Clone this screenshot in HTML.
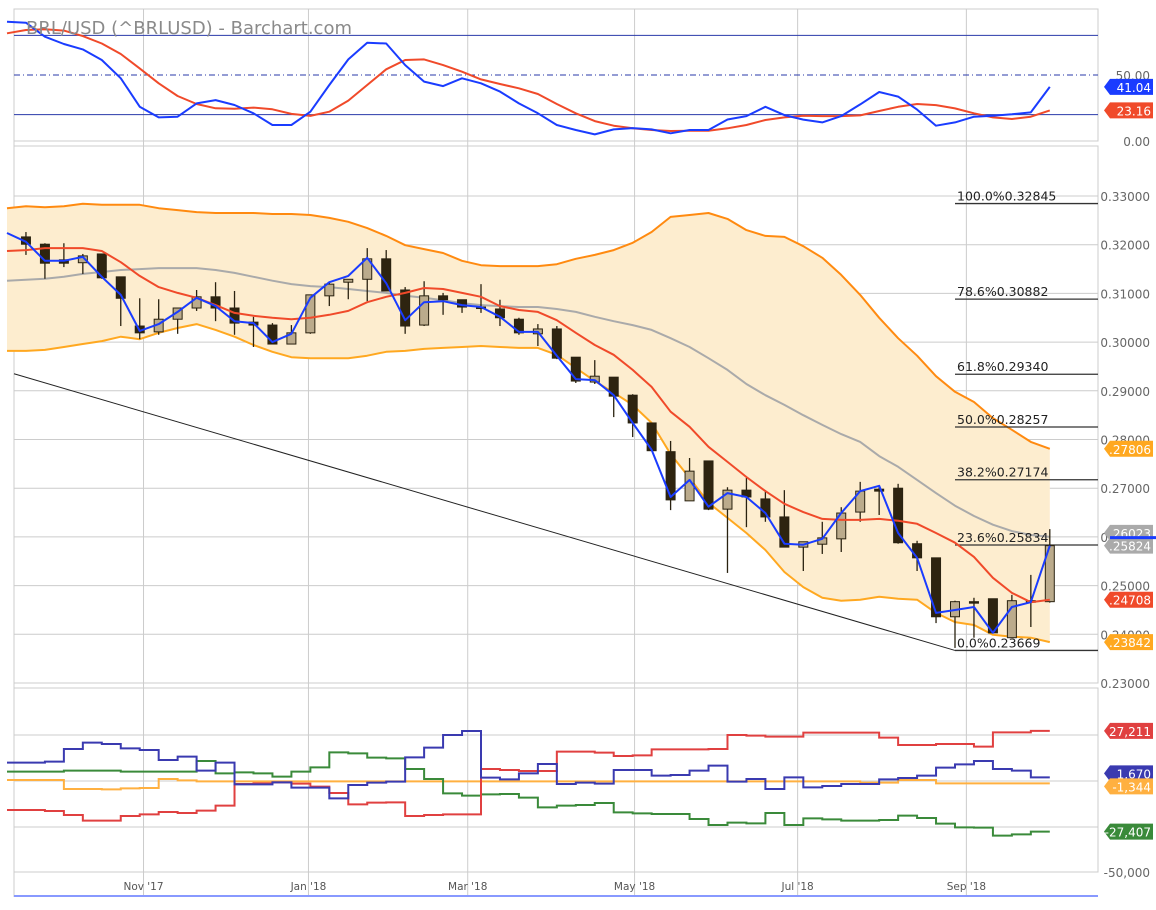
<!DOCTYPE html>
<html><head><meta charset="utf-8"><style>
html,body{margin:0;padding:0;background:#fff;}
svg{display:block;font-family:"DejaVu Sans","Liberation Sans",sans-serif;}
.ax{font-size:12px;fill:#666;}
.xl{font-size:10.5px;fill:#555;}
.bd{font-size:12px;fill:#fff;}
.fib{font-size:12.5px;fill:#222;}
</style></head><body>
<svg id="chart" width="1156" height="910" viewBox="0 0 1156 910" xmlns="http://www.w3.org/2000/svg">
<g id="grid"></g>
<g id="main"></g>
<g id="stoch"></g>
<g id="cot"></g>
<g id="axes"></g>
<text x="26" y="34" font-size="18" fill="#8a8a8a">BRL/USD (^BRLUSD) - Barchart.com</text>
</svg>
<script>
const opens=[.3216,.3201,.3169,.3163,.3181,.3134,.3033,.3021,.3047,.3070,.3093,.3070,.3041,.3035,.2996,.3019,.3095,.3123,.3129,.3171,.3107,.3035,.3095,.3087,.3072,.3068,.3047,.3017,.3027,.2969,.2918,.2928,.2891,.2834,.2775,.2674,.2756,.2657,.2696,.2678,.2641,.2579,.2585,.2596,.2651,.2698,.2700,.2586,.2557,.2436,.2467,.2473,.2393,.2467,.2467];
const highs=[.3226,.3203,.3203,.3181,.3181,.3134,.3090,.3088,.3070,.3107,.3123,.3105,.3052,.3039,.3035,.3097,.3123,.3129,.3193,.3189,.3113,.3125,.3101,.3087,.3119,.3087,.3050,.3037,.3033,.2969,.2963,.2928,.2893,.2834,.2797,.2762,.2756,.2702,.2721,.2696,.2696,.2590,.2631,.2661,.2713,.2706,.2709,.2592,.2557,.2469,.2475,.2473,.2481,.2522,.2616];
const lows=[.3179,.3130,.3154,.3140,.3130,.3033,.3006,.3015,.3017,.3064,.3043,.3015,.2990,.2996,.2996,.3017,.3074,.3088,.3084,.3105,.3017,.3033,.3056,.3060,.3060,.3033,.3015,.2992,.2965,.2916,.2914,.2846,.2805,.2777,.2655,.2674,.2655,.2526,.2620,.2631,.2579,.2530,.2565,.2569,.2631,.2645,.2586,.2530,.2423,.2372,.2393,.2403,.2393,.2415,.2465];
const closes=[.3201,.3162,.3162,.3177,.3132,.3090,.3019,.3047,.3070,.3093,.3070,.3039,.3035,.2996,.3019,.3097,.3119,.3129,.3171,.3105,.3033,.3095,.3087,.3072,.3070,.3050,.3019,.3027,.2967,.2920,.2930,.2889,.2834,.2777,.2676,.2735,.2657,.2696,.2682,.2641,.2579,.2590,.2598,.2649,.2694,.2694,.2588,.2557,.2436,.2467,.2465,.2403,.2469,.2469,.2582];
const upperBand=[.3275,.3279,.3277,.3279,.3284,.3282,.3282,.3282,.3275,.3271,.3267,.3265,.3265,.3265,.3263,.3263,.3261,.3255,.3247,.3234,.3218,.3199,.3191,.3183,.3167,.3158,.3156,.3156,.3156,.3160,.3171,.3179,.3189,.3204,.3226,.3257,.3261,.3265,.3253,.3230,.3218,.3216,.3197,.3173,.3138,.3097,.3050,.3008,.2972,.2930,.2898,.2877,.2844,.2820,.2795,.2781];
const lowerBand=[.2982,.2982,.2984,.2990,.2996,.3002,.3011,.3006,.3019,.3029,.3037,.3025,.3011,.2994,.2980,.2969,.2967,.2967,.2967,.2972,.2980,.2982,.2986,.2988,.2990,.2992,.2990,.2988,.2988,.2974,.2947,.2920,.2896,.2871,.2834,.2770,.2721,.2670,.2639,.2608,.2573,.2528,.2497,.2475,.2469,.2471,.2477,.2473,.2471,.2444,.2425,.2419,.2399,.2395,.2393,.2384];
const midBand=[.3126,.3128,.3130,.3134,.3140,.3144,.3148,.3150,.3152,.3152,.3152,.3148,.3142,.3134,.3126,.3119,.3115,.3113,.3109,.3105,.3101,.3095,.3091,.3086,.3080,.3076,.3074,.3072,.3072,.3068,.3062,.3052,.3043,.3035,.3025,.3008,.2990,.2967,.2943,.2914,.2891,.2871,.2850,.2830,.2811,.2795,.2766,.2744,.2717,.2690,.2664,.2643,.2625,.2612,.2604,.2600];
const redMA=[.3187,.3189,.3193,.3193,.3193,.3187,.3164,.3136,.3113,.3101,.3091,.3076,.3060,.3054,.3050,.3047,.3050,.3056,.3064,.3082,.3093,.3101,.3111,.3109,.3101,.3093,.3074,.3066,.3062,.3045,.3019,.2994,.2974,.2943,.2908,.2857,.2826,.2785,.2754,.2723,.2694,.2668,.2651,.2637,.2635,.2635,.2637,.2633,.2627,.2608,.2588,.2559,.2516,.2485,.2466,.2471];
const blueMA=[.3224,.3206,.3167,.3167,.3175,.3134,.3097,.3023,.3037,.3062,.3091,.3074,.3043,.3039,.3000,.3017,.3091,.3123,.3136,.3173,.3121,.3045,.3082,.3084,.3076,.3072,.3052,.3021,.3021,.2972,.2924,.2922,.2891,.2834,.2779,.2682,.2717,.2662,.2690,.2682,.2649,.2586,.2584,.2596,.2649,.2694,.2705,.2608,.2557,.2444,.2450,.2456,.2403,.2456,.2466,.2582];
const fibPct=["100.0%","78.6%","61.8%","50.0%","38.2%","23.6%","0.0%"];
const fibVals=[0.32845,0.30882,0.29340,0.28257,0.27174,0.25834,0.23669];
const trendStart=0.2935, trendEnd=0.23669;
const stochK=[90.4,89.6,79,73.5,69.4,61.4,47.5,26,17.9,18.4,28.5,31,27.3,21,12.1,12.1,22.2,42.4,61.8,74.5,73.9,57.5,45,41.6,47.5,43.7,37.4,28.5,21,12.1,8.3,5.0,8.8,9.8,8.8,5.8,8.3,8.3,16.3,18.9,25.9,19.6,16.2,14.1,18.9,27.7,37.1,33.6,23.8,11.6,14.1,18.4,19.2,20.2,21.7,41.0];
const stochD=[81.6,84.1,84.6,83.6,79.5,73.9,65.9,55,43.7,34.1,28,24.8,24.5,25.3,24,20.5,19,22.2,30.6,42.4,54.3,61.4,61.8,57.5,52.5,46.7,43.2,39.9,35.6,28,21,15.1,11.6,9.6,8.3,7.6,7.8,7.8,9.6,12.1,15.9,17.9,19.2,18.9,18.9,19.4,22.7,25.9,28,27.2,24.7,21,17.9,16.7,18.4,23.2];
const cotCommercial=[9970,9970,10510,17400,20840,20110,17760,16850,11420,13230,5620,9970,-1810,-1810,-720,-3620,-3620,-9420,-2170,-910,-360,12870,18120,25010,27180,1810,910,4170,9240,-1630,-910,-1450,5980,5980,2900,3260,5620,8340,-360,1090,-4350,1990,-3440,-2720,-1630,-1630,910,1630,2900,7250,9060,10870,6520,5620,1990];
const cotLarge=[5070,5070,5070,5620,5620,5620,5070,5070,5070,5070,10870,4170,4710,4170,2360,5070,7430,15580,15040,12680,12320,6520,1090,-6700,-7970,-7250,-7070,-9060,-14310,-13410,-13050,-11960,-17030,-17580,-17940,-17940,-20660,-23920,-22650,-23010,-17400,-23920,-20290,-20840,-21560,-21560,-21200,-18840,-20110,-23190,-25190,-25370,-29720,-28990,-27540];
const cotSmall=[540,540,540,-4350,-4350,-4530,-3990,-3810,1090,360,-200,-200,-200,-200,-200,-200,-200,-200,-200,-200,-200,-200,-200,-200,-200,-200,-200,-200,-200,-180,-180,-180,-180,-180,-180,-180,-180,-180,-180,-180,-180,-180,-180,-180,-180,-910,-910,540,540,-1300,-1300,-1300,-1300,-1300,-1300];
const cotRed=[-15760,-15760,-16310,-18480,-21560,-21560,-19030,-18120,-16850,-17400,-16130,-13410,-1630,-1270,-720,-1450,-3080,-6520,-12680,-11780,-11600,-19030,-18480,-18120,-18120,6520,5980,5440,5440,15950,15950,15400,13590,13950,17210,17210,17210,17400,25010,24640,24100,24100,26270,26270,26270,26270,23560,19570,19570,20110,20110,18660,26460,26460,27210];
const monthLabels=["Nov '17","Jan '18","Mar '18","May '18","Jul '18","Sep '18"];
const monthIdx=[7.2,15.9,24.3,33.1,41.7,50.6];
const priceTicks=[0.33,0.32,0.31,0.30,0.29,0.28,0.27,0.26,0.25,0.24,0.23];

const NS="http://www.w3.org/2000/svg";
const L=14,R=1098;
const xK=k=>7+k*18.96;
const yP=p=>196+(0.33-p)*4870;
const yS=v=>141-v*1.32;
const yC=v=>781-v/25000*46;
function mk(tag,attrs,parent){const e=document.createElementNS(NS,tag);for(const a in attrs)e.setAttribute(a,attrs[a]);parent.appendChild(e);return e;}
const grid=document.getElementById('grid'),main=document.getElementById('main'),st=document.getElementById('stoch'),cot=document.getElementById('cot'),axes=document.getElementById('axes');

[[9,141],[146,683],[688,872]].forEach(([t,b])=>{
  const r=mk('rect',{x:L,y:t,width:R-L,height:b-t,fill:'none',stroke:'#ccc'},grid);
  
  
});
monthIdx.forEach((m,i)=>{
  const x=xK(m);
  const g=mk('line',{x1:x,x2:x,y1:9,y2:897,stroke:'#ccc'},grid);
  
  
  const t=mk('text',{x:x,y:890,'text-anchor':'middle',class:'xl'},axes);
  t.textContent=monthLabels[i];
  
  
});
mk('line',{x1:L,x2:L,y1:9,y2:897,stroke:'#ccc'},grid);
mk('line',{x1:L,x2:R,y1:896,y2:896,stroke:'#8899ff','stroke-width':2},grid);
priceTicks.forEach(p=>{
  const y=yP(p);
  const g=mk('line',{x1:L,x2:R,y1:y,y2:y,stroke:'#ccc'},grid);
  
  
  const t=mk('text',{x:1150,y:y+5,'text-anchor':'end',class:'ax'},axes);
  t.textContent=p.toFixed(5);
  
  
});
[25000,0,-25000].forEach(v=>{const y=yC(v);mk('line',{x1:L,x2:R,y1:y,y2:y,stroke:'#ccc'},grid);});
const t50=mk('text',{x:1150,y:877,'text-anchor':'end',class:'ax'},axes);t50.textContent='-50,000';
[80,20].forEach(v=>mk('line',{x1:L,x2:R,y1:yS(v),y2:yS(v),stroke:'#2a3aaa'},st));
mk('line',{x1:L,x2:R,y1:yS(50),y2:yS(50),stroke:'#2a3aaa','stroke-dasharray':'6,3,1,3'},st);
[[50,'50.00'],[0,'0.00']].forEach(([v,s])=>{const t=mk('text',{x:1150,y:yS(v)+5,'text-anchor':'end',class:'ax'},axes);t.textContent=s;});

function pline(arr,yf,k0,color,w,parent,name){
  const pts=arr.map((v,i)=>xK(i+k0).toFixed(1)+','+yf(v).toFixed(1)).join(' ');
  const e=mk('polyline',{points:pts,fill:'none',stroke:color,'stroke-width':w,'stroke-linejoin':'round'},parent);
  
  
}
let bp=upperBand.map((v,i)=>xK(i)+','+yP(v)).join(' ')+' '+lowerBand.map((v,i)=>xK(i)+','+yP(v)).reverse().join(' ');
const bf=mk('polygon',{points:bp,fill:'#fdedcf'},main);


pline(midBand,yP,0,'#aaaaaa',2,main,'bollinger-middle');
pline(upperBand,yP,0,'#ff8a10',2,main,'bollinger-upper');
pline(lowerBand,yP,0,'#ffa820',2,main,'bollinger-lower');
const tl=mk('line',{x1:L,y1:yP(trendStart),x2:955,y2:yP(trendEnd),stroke:'#222','stroke-width':1},main);


fibVals.forEach((v,i)=>{
  const y=yP(v);
  const l=mk('line',{x1:955,x2:R,y1:y,y2:y,stroke:'#333','stroke-width':1.3},main);
  
  
  const t=mk('text',{x:957,y:y-3,class:'fib'},main);
  t.textContent=fibPct[i]+v.toFixed(5);
  
  
});
opens.forEach((o,i)=>{
  const c=closes[i],x=xK(i+1),up=c>=o;
  const g=mk('g',{},main);
  
  
  mk('line',{x1:x,x2:x,y1:yP(highs[i]),y2:yP(lows[i]),stroke:'#2a2210','stroke-width':1.3},g);
  const top=yP(Math.max(o,c)),bot=yP(Math.min(o,c));
  mk('rect',{x:x-4.5,y:top,width:9,height:Math.max(1.5,bot-top),fill:up?'#bbab8c':'#2e2410',stroke:'#2a2210','stroke-width':1},g);
});
pline(redMA,yP,0,'#f04a2a',2,main,'red-moving-average');
pline(blueMA,yP,0,'#1a3cff',2,main,'blue-moving-average');
pline(stochD,yS,0,'#f04a2a',2,st,'stoch-d-line');
pline(stochK,yS,0,'#1a3cff',2,st,'stoch-k-line');
function step(arr,color,name){
  let pts=[];
  arr.forEach((v,i)=>{pts.push(xK(i)+','+yC(v));pts.push(xK(i+1)+','+yC(v));});
  const e=mk('polyline',{points:pts.join(' '),fill:'none',stroke:color,'stroke-width':2},cot);
  
  
}
step(cotSmall,'#ffb040','cot-small-specs');
step(cotLarge,'#3a8a3a','cot-large-specs');
step(cotRed,'#e04040','cot-red-series');
step(cotCommercial,'#3a3ab0','cot-blue-series');
function badge(y,text,color,name){
  const g=mk('g',{},axes);
  
  
  mk('polygon',{points:`1104,${y} 1110,${y-8} 1153,${y-8} 1153,${y+8} 1110,${y+8}`,fill:color},g);
  const t=mk('text',{x:1151,y:y+5,'text-anchor':'end',class:'bd'},g);t.textContent=text;
}
badge(yS(stochK[55]),'41.04','#1a3cff','stoch-k-badge');
badge(yS(stochD[55]),'23.16','#f04a2a','stoch-d-badge');
badge(yP(upperBand[55]),'.27806','#ffa820','upper-band-badge');
badge(yP(midBand[55])-4,'.26023','#aaaaaa','middle-band-badge');
badge(yP(blueMA[55]),'.25824','#aaaaaa','close-badge');
mk('line',{x1:1110,x2:1156,y1:yP(blueMA[55])-8,y2:yP(blueMA[55])-8,stroke:'#1a3cff','stroke-width':3},axes);
badge(yP(redMA[55]),'.24708','#f04a2a','red-ma-badge');
badge(yP(lowerBand[55]),'.23842','#ffa820','lower-band-badge');
badge(yC(cotRed[54]),'27,211','#e04040','cot-red-badge');
badge(yC(cotCommercial[54])-4,'1,670','#3a3ab0','cot-blue-badge');
badge(yC(cotSmall[54])+3,'-1,344','#ffb040','cot-small-badge');
badge(yC(cotLarge[54]),'-27,407','#3a8a3a','cot-green-badge');
</script>
</body></html>
